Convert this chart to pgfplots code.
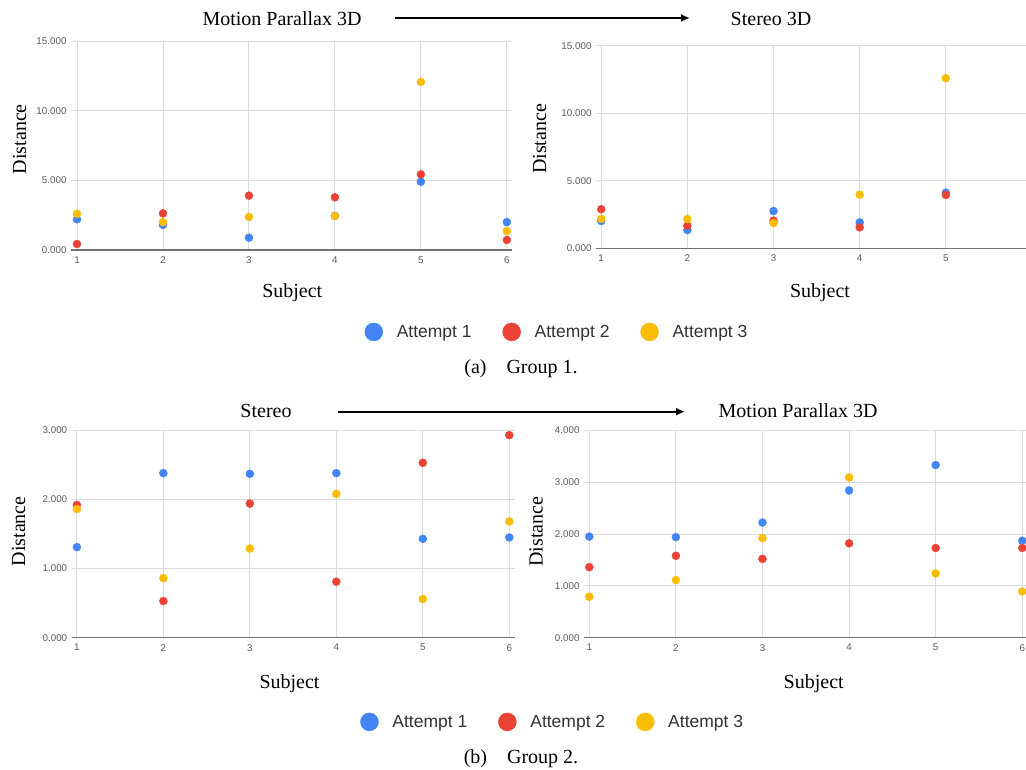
\documentclass[border=0pt]{standalone}
\usepackage{fontspec}
\setmainfont{Liberation Serif}
\newfontfamily\sansf{Liberation Sans}
\usepackage{pgfplots}
\pgfplotsset{compat=1.18}
\usetikzlibrary{arrows.meta}
\definecolor{gblue}{HTML}{4285F4}
\definecolor{gred}{HTML}{EA4335}
\definecolor{gyellow}{HTML}{FBBC04}
\pgfplotsset{
  gpanel/.style={
    anchor=south west, scale only axis,
    axis lines*=left,
    y axis line style={draw=none},
    x axis line style={draw=black!55, line width=1.3pt},
    major tick length=0pt,
    grid=major,
    major grid style={draw=black!14, line width=0.9pt},
    ymin=0,
    xtick={1,2,3,4,5,6},
    tick label style={font=\sansf\fontsize{9.8}{11}\selectfont, text=black!65},
    y tick label style={xshift=-1pt, /pgf/number format/fixed, /pgf/number format/fixed zerofill, /pgf/number format/precision=3, /pgf/number format/assume math mode=true},
    x tick label style={yshift=-3pt, /pgf/number format/assume math mode=true},
    clip=false,
  },
  p1/.style={only marks, mark=*, mark size=4pt, color=gblue},
  p2/.style={only marks, mark=*, mark size=4pt, color=gred},
  p3/.style={only marks, mark=*, mark size=4pt, color=gyellow},
  glegend/.style={
    legend columns=3,
    legend image code/.code={\draw[##1, mark size=9pt] plot coordinates {(0pt,0pt)};},
    legend style={draw=none, fill=none, anchor=center, inner sep=0pt,
      font=\sansf\fontsize{17.5}{20}\selectfont, text=black!80,
      nodes={inner xsep=0pt, inner ysep=2pt},
      /tikz/every odd column/.append style={column sep=14pt},
      /tikz/every even column/.append style={column sep=31pt}},
  },
}
\newcommand{\tfont}{\fontsize{20}{24}\selectfont}
\begin{document}
\begin{tikzpicture}[x=1pt,y=1pt]
\path[use as bounding box] (0,0) rectangle (1026,770);
% ---------- Panel A: Group 1, Motion Parallax 3D
\begin{axis}[gpanel, at={(71pt,520pt)}, width=441pt, height=209pt,
  xmin=0.93, xmax=6.06, ymax=15, ytick={0,5,10,15}, glegend,
  legend style={at={(1.100,-0.392)}}]
\addplot[p1] coordinates {(1,2.2) (2,1.8) (3,0.88) (4,2.45) (5,4.9) (6,2.0)};
\addplot[p2] coordinates {(1,0.43) (2,2.63) (3,3.9) (4,3.78) (5,5.43) (6,0.72)};
\addplot[p3] coordinates {(1,2.6) (2,2.0) (3,2.37) (4,2.44) (5,12.06) (6,1.36)};
\legend{Attempt 1, Attempt 2, Attempt 3}
\end{axis}
% ---------- Panel B: Group 1, Stereo 3D
\begin{axis}[gpanel, at={(596pt,521.7pt)}, width=430pt, height=202.6pt,
  xmin=0.94, xmax=5.93, ymax=15, ytick={0,5,10,15}, xtick={1,2,3,4,5}]
\addplot[p1] coordinates {(1,2.02) (2,1.35) (3,2.76) (4,1.92) (5,4.12)};
\addplot[p2] coordinates {(1,2.89) (2,1.67) (3,2.05) (4,1.55) (5,3.95)};
\addplot[p3] coordinates {(1,2.17) (2,2.17) (3,1.87) (4,3.97) (5,12.59)};
\end{axis}
% ---------- Panel C: Group 2, Stereo
\begin{axis}[gpanel, at={(71.7pt,132.3pt)}, width=443.3pt, height=207.4pt,
  xmin=0.94, xmax=6.066, ymax=3, ytick={0,1,2,3}, glegend,
  legend style={at={(1.083,-0.406)}}]
\addplot[p1] coordinates {(1,1.31) (2,2.38) (3,2.37) (4,2.38) (5,1.43) (6,1.45)};
\addplot[p2] coordinates {(1,1.92) (2,0.53) (3,1.94) (4,0.81) (5,2.53) (6,2.93)};
\addplot[p3] coordinates {(1,1.86) (2,0.86) (3,1.29) (4,2.08) (5,0.56) (6,1.68)};
\legend{Attempt 1, Attempt 2, Attempt 3}
\end{axis}
% ---------- Panel D: Group 2, Motion Parallax 3D
\begin{axis}[gpanel, at={(584pt,132.3pt)}, width=442pt, height=207.4pt,
  xmin=0.939, xmax=6.043, ymax=4, ytick={0,1,2,3,4}]
\addplot[p1] coordinates {(1,1.95) (2,1.94) (3,2.22) (4,2.84) (5,3.33) (6,1.87)};
\addplot[p2] coordinates {(1,1.36) (2,1.58) (3,1.52) (4,1.82) (5,1.73) (6,1.73)};
\addplot[p3] coordinates {(1,0.79) (2,1.11) (3,1.92) (4,3.09) (5,1.24) (6,0.89)};
\end{axis}
% ---------- titles, arrows, labels
\node[anchor=base, font=\tfont] at (282,744.7) {Motion Parallax 3D};
\node[anchor=base, font=\tfont] at (771,744.7) {Stereo 3D};
\draw[line width=2pt, -{Latex[length=9pt,width=8pt]}] (395,752) -- (690,752);
\node[anchor=base, font=\tfont] at (266,352) {Stereo};
\node[anchor=base, font=\tfont] at (798,352) {Motion Parallax 3D};
\draw[line width=2pt, -{Latex[length=9pt,width=8pt]}] (338,358.3) -- (685,358.3);
\node[anchor=base, font=\tfont] at (292.3,472.5) {Subject};
\node[anchor=base, font=\tfont] at (820,472.5) {Subject};
\node[anchor=base, font=\tfont] at (289.5,81) {Subject};
\node[anchor=base, font=\tfont] at (813.7,81) {Subject};
\node[anchor=base, rotate=90, font=\tfont] at (26,630.8) {Distance};
\node[anchor=base, rotate=90, font=\tfont] at (546,631) {Distance};
\node[anchor=base, rotate=90, font=\tfont] at (25,238.7) {Distance};
\node[anchor=base, rotate=90, font=\tfont] at (542.7,238.3) {Distance};
\node[anchor=base, font=\tfont] at (521,396.7) {(a)\quad Group 1.};
\node[anchor=base, font=\tfont] at (521,6) {(b)\quad Group 2.};
\end{tikzpicture}
\end{document}
